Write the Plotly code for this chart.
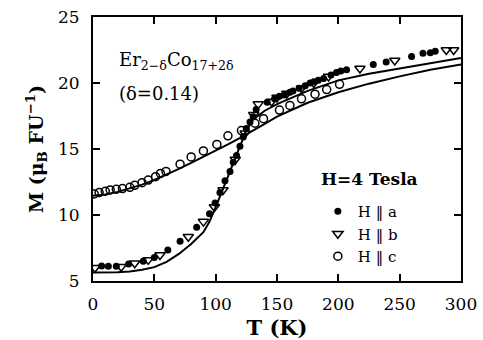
import plotly.graph_objects as go

# ---- data ----
T_a = [7, 12.5, 19, 29, 41, 50, 61, 71, 84.5, 95, 99.5, 103.5, 107.6, 111.7, 114.3, 117, 119.8,
       122.5, 125, 128, 130.6, 133, 142, 148, 152, 156, 160.5, 163, 168, 173, 177, 180, 183.6,
       188, 194, 198.5, 202, 206.7, 228.5, 239, 259.7, 269, 275, 279]
M_a = [6.14, 6.12, 6.12, 6.28, 6.5, 6.78, 7.35, 8.02, 9.07, 10.1, 10.9, 11.7, 12.6, 13.3, 14.0, 14.5, 15.2,
       15.9, 16.55, 17.05, 17.45, 18.0, 18.55, 18.8, 19.0, 19.1, 19.3, 19.4, 19.6, 19.8, 20.0, 20.1, 20.2,
       20.35, 20.6, 20.8, 20.9, 21.0, 21.4, 21.6, 22.0, 22.25, 22.3, 22.4]

T_b = [1.6, 23, 34, 45, 54.6, 77.7, 90, 99, 106, 116, 124, 131, 134.7, 145.6, 150, 158, 170, 180,
       192, 217.6, 246, 288, 294]
M_b = [6.0, 6.08, 6.35, 6.6, 6.97, 8.35, 9.5, 10.6, 11.9, 14.2, 16.2, 17.6, 18.4, 18.6, 18.9, 19.2, 19.6, 20.0,
       20.5, 21.1, 21.7, 22.5, 22.5]

T_c = [1, 5, 10, 14, 19, 24, 30, 34, 40, 45, 51, 55, 59.5, 71, 80, 90, 101, 110, 121, 132, 139,
       152, 160.5, 170, 181, 190.5, 201]
M_c = [11.6, 11.7, 11.8, 11.9, 11.95, 12.0, 12.1, 12.25, 12.45, 12.65, 12.9, 13.15, 13.3, 13.85, 14.4,
       14.85, 15.35, 16.0, 16.4, 16.95, 17.3, 17.95, 18.3, 18.8, 19.15, 19.5, 19.9]

T_fit_a = [0, 10, 20, 30, 40, 50, 60, 70, 80, 90, 95, 100, 105, 110, 115, 120, 125, 130, 140, 150,
           175, 200, 225, 250, 275, 300]
M_fit_a = [5.65, 5.65, 5.67, 5.72, 5.85, 6.05, 6.45, 7.05, 7.8, 8.7, 9.5, 10.6, 11.7, 12.9, 14.1, 15.3,
           16.4, 17.2, 17.9, 18.4, 19.4, 20.2, 20.7, 21.1, 21.5, 21.9]

T_fit_c = [0, 10, 20, 30, 40, 50, 60, 70, 80, 90, 100, 110, 120, 130, 140, 150, 175, 200, 225, 250, 275, 300]
M_fit_c = [11.45, 11.55, 11.75, 12.0, 12.3, 12.65, 13.05, 13.5, 13.95, 14.4, 14.85, 15.35, 15.85, 16.35,
           16.9, 17.45, 18.5, 19.3, 19.95, 20.5, 21.0, 21.4]

x_ticks = [0, 50, 100, 150, 200, 250, 300]
y_ticks = [5, 10, 15, 20, 25]

FONT = "DejaVu Serif"

fig = go.Figure()
fig.add_trace(go.Scatter(x=T_fit_a, y=M_fit_a, mode="lines", line=dict(color="black", width=2),
                         showlegend=False, hoverinfo="skip"))
fig.add_trace(go.Scatter(x=T_fit_c, y=M_fit_c, mode="lines", line=dict(color="black", width=2),
                         showlegend=False, hoverinfo="skip"))
fig.add_trace(go.Scatter(x=T_c, y=M_c, mode="markers", name="H \u2016 c",
                         marker=dict(symbol="circle-open", size=8, color="black", line=dict(width=1.5))))
fig.add_trace(go.Scatter(x=T_b, y=M_b, mode="markers", name="H \u2016 b",
                         marker=dict(symbol="triangle-down-open", size=9, color="black", line=dict(width=1.5))))
fig.add_trace(go.Scatter(x=T_a, y=M_a, mode="markers", name="H \u2016 a",
                         marker=dict(symbol="circle", size=7, color="black")))

axis_common = dict(showline=True, linecolor="black", linewidth=2, mirror="ticks",
                   ticks="inside", ticklen=7, tickwidth=1.5, tickcolor="black",
                   showgrid=False, zeroline=False, automargin=False,
                   tickfont=dict(family=FONT, size=17, color="black"))

fig.update_xaxes(range=[0, 300], tickvals=x_ticks, ticklabelstandoff=7,
                 title=dict(text="<b>T (K)</b>", font=dict(family=FONT, size=21, color="black"), standoff=31),
                 **axis_common)
fig.update_yaxes(range=[5, 25], tickvals=y_ticks, ticklabelstandoff=8,
                 title=dict(text="<b>M (\u03bc<sub>B</sub> FU<sup>\u22121</sup>)</b>",
                            font=dict(family=FONT, size=19, color="black"), standoff=9),
                 **axis_common)

fig.add_annotation(x=0.065, y=0.835, xref="paper", yref="paper", xanchor="left", yanchor="middle",
                   text="Er<sub>2\u2212\u03b4</sub>Co<sub>17+2\u03b4</sub>", showarrow=False,
                   font=dict(family=FONT, size=18, color="black"))
fig.add_annotation(x=0.065, y=0.712, xref="paper", yref="paper", xanchor="left", yanchor="middle",
                   text="(\u03b4=0.14)", showarrow=False,
                   font=dict(family=FONT, size=18, color="black"))
fig.add_annotation(x=0.75, y=0.386, xref="paper", yref="paper", xanchor="center", yanchor="middle",
                   text="<b>H=4 Tesla</b>", showarrow=False,
                   font=dict(family=FONT, size=17, color="black"))

fig.update_layout(
    width=483, height=340,
    margin=dict(l=93, r=22, t=17, b=59, autoexpand=False),
    paper_bgcolor="white", plot_bgcolor="white",
    font=dict(family=FONT, color="black"),
    legend=dict(x=0.611, y=0.326, xanchor="left", yanchor="top",
                bgcolor="rgba(0,0,0,0)", traceorder="reversed",
                font=dict(family=FONT, size=15, color="black"),
                itemwidth=30, tracegroupgap=0),
)

fig.write_html("out.html")
